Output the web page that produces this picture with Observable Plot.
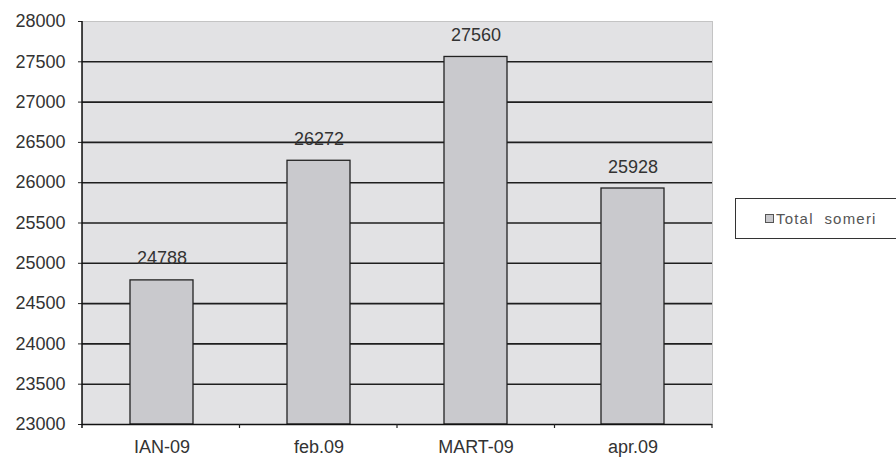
<!DOCTYPE html>
<html>
<head>
<meta charset="utf-8">
<script src="https://cdn.jsdelivr.net/npm/d3@7"></script>
<script src="https://cdn.jsdelivr.net/npm/@observablehq/plot@0.6"></script>
<style>
  html, body { margin: 0; padding: 0; background: #fff; }
  #wrap { position: relative; width: 896px; height: 457px; font-family: "Liberation Sans", Arial, sans-serif; }
  #legend { position: absolute; left: 735px; top: 198px; width: 170px; height: 41px; border: 1.5px solid #333; box-sizing: border-box; background: #fff; display: flex; align-items: center; padding-left: 29px; font-size: 15px; letter-spacing: 1.2px; color: #555; }
  #legend .sw { width: 7px; height: 7px; border: 1px solid #555; background: #c8c8cc; margin-right: 2px; }
</style>
</head>
<body>
<div id="wrap"></div>
<script>
const categories = ["IAN-09", "feb.09", "MART-09", "apr.09"];
const values = [24788, 26272, 27560, 25928];
const yTicks = [23000, 23500, 24000, 24500, 25000, 25500, 26000, 26500, 27000, 27500, 28000];
const seriesName = "Total  someri";

const data = categories.map((c, i) => ({cat: c, value: values[i]}));
const gridTicks = yTicks.filter(t => t > 23000 && t < 28000);

const chart = Plot.plot({
  width: 896,
  height: 457,
  marginLeft: 82,
  marginRight: 184,
  marginTop: 21,
  marginBottom: 33,
  style: {fontFamily: "'Liberation Sans', Arial, sans-serif", background: "transparent"},
  x: {domain: categories, paddingInner: 0.6, paddingOuter: 0.3, label: null, axis: null},
  y: {domain: [23000, 28000], label: null, axis: null},
  marks: [
    Plot.frame({fill: "#e2e2e4", stroke: "#c4c4c4"}),
    Plot.ruleY(gridTicks, {stroke: "#1e1e1e", strokeWidth: 1.6}),
    Plot.rectY(data, {x: "cat", y1: 23000, y2: "value", fill: "#c9c9cd", stroke: "#222", strokeWidth: 1.3}),
    Plot.text(data, {x: "cat", y: "value", text: d => String(d.value), lineAnchor: "bottom", dy: -16, fontSize: 18, fill: "#333"}),
    Plot.axisY({ticks: yTicks, tickFormat: d => String(d), tickSize: 4, tickPadding: 13, fontSize: 18, color: "#333", stroke: "#222", label: null}),
    Plot.axisX({fontSize: 18, tickSize: 0, tickPadding: 16, color: "#333", label: null}),
    Plot.ruleY([23000], {stroke: "#111", strokeWidth: 1.5})
  ]
});

document.getElementById("wrap").appendChild(chart);

// Left axis line and x ticks at band boundaries
const svg = d3.select(chart);
const ys = chart.scale("y");
const left = 82, right = 896 - 184;
const yb = ys.apply(23000), yt = ys.apply(28000);
svg.append("line").attr("x1", left).attr("x2", left).attr("y1", yt).attr("y2", yb + 4).attr("stroke", "#111").attr("stroke-width", 1.5);
const step = (right - left) / categories.length;
for (let i = 1; i <= categories.length; i++) {
  const x = left + i * step;
  svg.append("line").attr("x1", x).attr("x2", x).attr("y1", yb).attr("y2", yb + 4).attr("stroke", "#222").attr("stroke-width", 1.2);
}

const lg = document.createElement("div");
lg.id = "legend";
lg.innerHTML = '<span class="sw"></span><span>' + seriesName.replace(/ /g, "&nbsp;") + '</span>';
document.getElementById("wrap").appendChild(lg);
</script>
</body>
</html>
